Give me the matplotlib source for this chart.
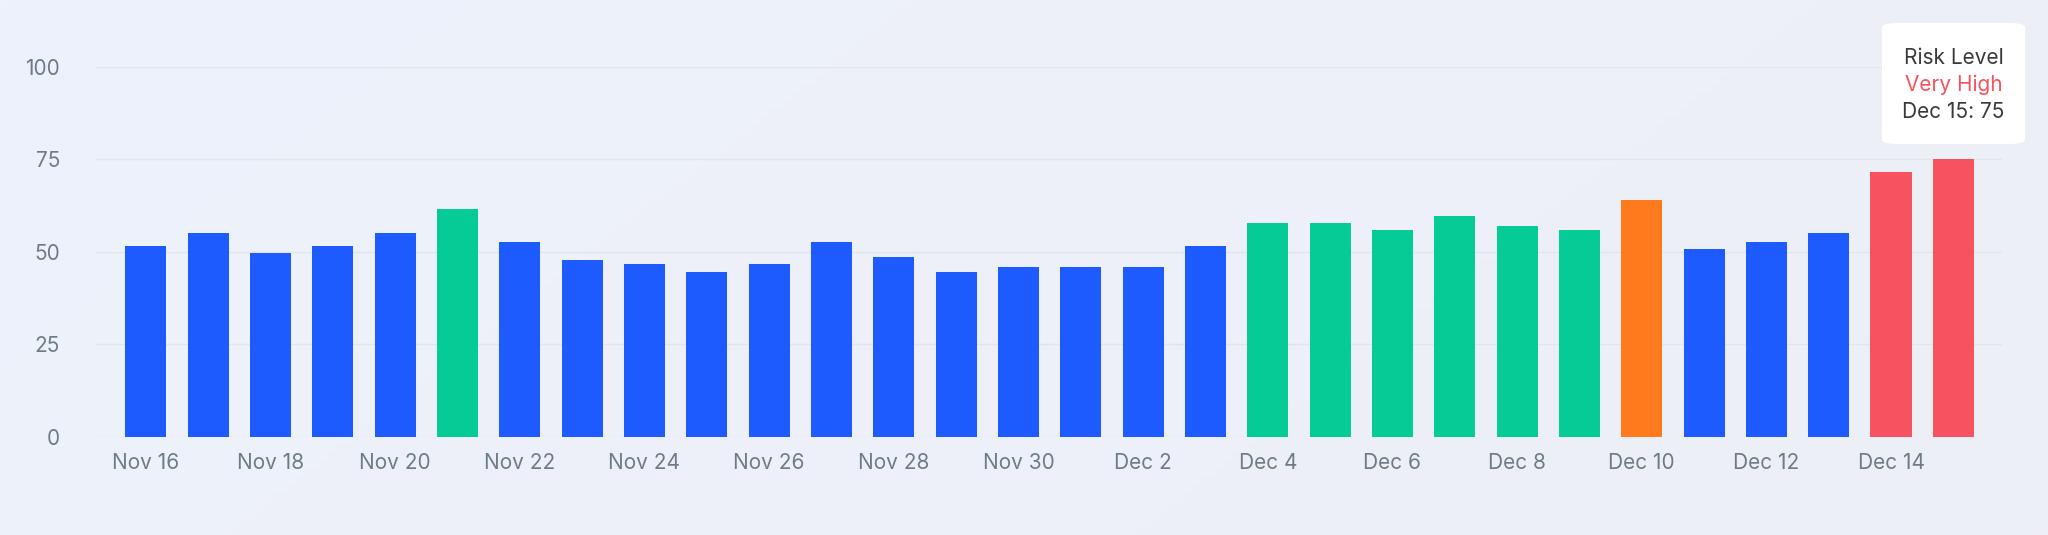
import matplotlib.pyplot as plt
import numpy as np
import pandas as pd
from matplotlib.patches import FancyBboxPatch
from matplotlib.colors import to_rgb

# data
dates = pd.date_range('2024-11-16', '2024-12-15', freq='D')
labels = [d.strftime('%b ') + str(d.day) for d in dates]
risk = [51.5, 55, 49.7, 51.5, 55, 61.5, 52.5, 47.8, 46.8, 44.5,
        46.8, 52.5, 48.7, 44.5, 46, 46, 46, 51.5, 57.7, 57.7,
        55.8, 59.7, 57, 56, 64, 50.8, 52.6, 55, 71.5, 75]
levels = ['Low'] * 5 + ['Moderate'] + ['Low'] * 12 + ['Moderate'] * 6 + ['High'] + ['Low'] * 3 + ['Very High'] * 2

level_colors = {'Low': '#1e5bff', 'Moderate': '#05cc96', 'High': '#ff7a1c', 'Very High': '#f7525f'}

plt.rcParams['font.family'] = ['Inter', 'DejaVu Sans']

W, H = 2048, 535
fig = plt.figure(figsize=(W / 100, H / 100), dpi=100)

# soft diagonal background gradient
bg = fig.add_axes([0, 0, 1, 1], zorder=-10)
c1 = np.array(to_rgb('#edf2fc'))
c2 = np.array(to_rgb('#eeeff6'))
gx, gy = np.meshgrid(np.linspace(0, 1, 256), np.linspace(0, 1, 64))
t = (0.75 * gx + 0.25 * gy)[..., None]
grad = c1 * (1 - t) + c2 * t
bg.imshow(grad, aspect='auto', extent=[0, 1, 0, 1])
bg.axis('off')

ax = fig.add_axes([96 / W, (H - 436.7) / H, (2002 - 96) / W, 370 / H])
ax.patch.set_alpha(0)

x = np.arange(len(risk))
ax.bar(x, risk, width=0.66, color=[level_colors[l] for l in levels], zorder=3)

ax.set_xlim(-0.8, len(risk) - 1 + 0.78)
ax.set_ylim(0, 100)
ax.set_yticks([0, 25, 50, 75, 100])
ax.set_xticks(x[::2])
ax.set_xticklabels(labels[::2])
ax.grid(axis='y', color='#e2e5ea', linewidth=1.0, zorder=0)
ax.tick_params(length=0, labelsize=15, labelcolor='#6e7c87')
ax.tick_params(axis='y', pad=26)
ax.tick_params(axis='x', pad=12)
for s in ax.spines.values():
    s.set_visible(False)

# tooltip for the last bar
bx0, bx1, by0, by1 = 1882, 2025, 23, 144
box = FancyBboxPatch((bx0 / W, 1 - by1 / H), (bx1 - bx0) / W, (by1 - by0) / H,
                     boxstyle='round,pad=0,rounding_size=0.008',
                     transform=fig.transFigure, facecolor='white', edgecolor='none', zorder=20)
fig.patches.append(box)
cx = (bx0 + bx1) / 2 / W
fig.text(cx, 1 - 58 / H, 'Risk Level', ha='center', va='center', fontsize=15, color='#3a3a3c', zorder=21)
fig.text(cx, 1 - 85 / H, levels[-1], ha='center', va='center', fontsize=15, color=level_colors[levels[-1]], zorder=21)
fig.text(cx, 1 - 112 / H, f'{labels[-1]}: {risk[-1]:g}', ha='center', va='center', fontsize=15, color='#3a3a3c', zorder=21)

fig.savefig('out.png', dpi=100)
